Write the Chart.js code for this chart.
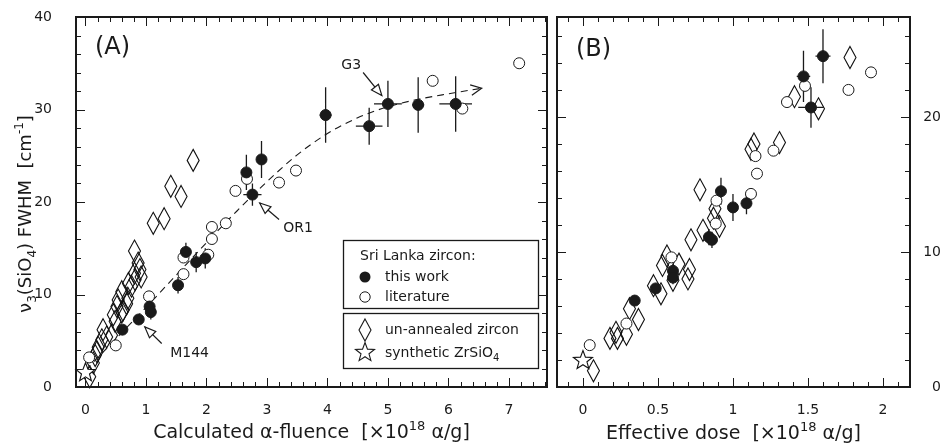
<!DOCTYPE html>
<html>
<head>
<meta charset="utf-8">
<script src="https://cdn.jsdelivr.net/npm/chart.js@4.4.1/dist/chart.umd.min.js"></script>
<style>
  body { margin: 0; background: #fff; }
  #wrap { position: relative; width: 941px; height: 444px; }
  canvas { position: absolute; top: 0; }
</style>
</head>
<body>
<div id="wrap">
  <canvas id="panelA" width="556" height="444" style="left:0;width:556px;height:444px"></canvas>
  <canvas id="panelB" width="400" height="444" style="left:541px;width:400px;height:444px"></canvas>
</div>
<script>
// ---- panel A: FWHM vs calculated alpha-fluence ----
const aWorkX    = [0.61, 0.88, 1.06, 1.08, 1.53, 1.66, 1.83, 1.98, 2.66, 2.76, 2.91, 3.97, 4.69, 5.00, 5.50, 6.12];
const aWorkY    = [6.2, 7.3, 8.7, 8.1, 11.0, 14.6, 13.5, 13.9, 23.2, 20.8, 24.6, 29.4, 28.2, 30.6, 30.5, 30.6];
const aWorkXErr = [0, 0, 0, 0, 0, 0, 0, 0, 0, 0.15, 0, 0.10, 0.22, 0.23, 0.10, 0.27];
const aWorkYErr = [0, 0.5, 0.8, 0.8, 0.9, 1.0, 1.1, 1.1, 1.9, 1.2, 2.0, 3.0, 2.0, 2.5, 3.0, 3.0];

const aLitX = [0.06, 0.50, 1.05, 1.62, 1.62, 2.03, 2.09, 2.09, 2.32, 2.48, 2.67, 3.20, 3.48, 5.74, 6.23, 7.17];
const aLitY = [3.2, 4.5, 9.8, 12.2, 14.0, 14.3, 16.0, 17.3, 17.7, 21.2, 22.5, 22.1, 23.4, 33.1, 30.1, 35.0];

const aUnannX = [0.07, 0.13, 0.16, 0.19, 0.21, 0.27, 0.29, 0.35, 0.43, 0.46, 0.49, 0.52, 0.54, 0.60, 0.60, 0.62,
                 0.68, 0.70, 0.71, 0.76, 0.81, 0.82, 0.87, 0.90, 0.92, 0.81, 1.12, 1.30, 1.41, 1.58, 1.78];
const aUnannY = [1.1, 2.6, 3.4, 3.8, 4.3, 5.1, 6.2, 5.4, 5.6, 7.8, 7.1, 8.7, 9.4, 8.1, 10.3, 8.3,
                 9.0, 9.6, 11.2, 10.9, 12.3, 11.6, 13.4, 12.7, 11.9, 14.7, 17.7, 18.2, 21.7, 20.6, 24.5];

const aSynthX = [0.0];
const aSynthY = [1.6];

// dashed trend line
const aTrendX = [0.0, 0.5, 1.0, 1.5, 2.0, 2.5, 3.0, 3.5, 4.0, 4.5, 5.0, 5.5, 6.0, 6.55];
const aTrendY = [1.8, 5.2, 8.6, 12.1, 15.6, 19.0, 22.2, 25.1, 27.4, 29.1, 30.3, 31.1, 31.7, 32.3];

const aXTicks = [0, 1, 2, 3, 4, 5, 6, 7];
const aYTicks = [0, 10, 20, 30, 40];

// sample annotations (text anchor, arrow start, arrow tip) in data units
const noteText  = ['M144', 'OR1', 'G3'];
const noteX     = [1.40, 3.27, 4.23];
const noteY     = [3.66, 17.2, 34.75];
const noteFromX = [1.26, 3.20, 4.59];
const noteFromY = [4.7, 18.1, 34.0];
const noteToX   = [0.98, 2.88, 4.90];
const noteToY   = [6.5, 19.9, 31.5];

// ---- panel B: FWHM vs effective dose ----
const bWorkX    = [0.345, 0.485, 0.60, 0.60, 0.84, 0.86, 0.92, 1.00, 1.09, 1.47, 1.52, 1.60];
const bWorkY    = [6.4, 7.3, 8.6, 8.1, 11.1, 10.9, 14.5, 13.3, 13.6, 23.0, 20.7, 24.5];
const bWorkXErr = [0, 0, 0, 0, 0, 0, 0, 0, 0, 0.045, 0.085, 0.05];
const bWorkYErr = [0, 0, 0.5, 0.5, 0.6, 0.6, 1.0, 1.0, 0.8, 1.9, 1.5, 2.0];

const bLitX = [0.045, 0.29, 0.59, 0.885, 0.89, 1.12, 1.16, 1.15, 1.27, 1.36, 1.48, 1.77, 1.92];
const bLitY = [3.1, 4.7, 9.6, 12.1, 13.8, 14.3, 15.8, 17.1, 17.5, 21.1, 22.3, 22.0, 23.3];

const bUnannX = [0.07, 0.18, 0.22, 0.23, 0.29, 0.31, 0.37, 0.47, 0.52, 0.53, 0.56, 0.60, 0.64, 0.70,
                 0.71, 0.72, 0.78, 0.80, 0.87, 0.88, 0.91, 1.12, 1.14, 1.31, 1.41, 1.57, 1.78];
const bUnannY = [1.2, 3.6, 4.05, 3.6, 3.9, 5.8, 5.0, 7.5, 6.9, 9.0, 9.7, 7.9, 9.1, 8.0,
                 8.7, 10.9, 14.6, 11.6, 12.5, 13.2, 11.9, 17.6, 18.0, 18.1, 21.5, 20.6, 24.4];

const bSynthX = [0.0];
const bSynthY = [2.0];

const bXTicks = [0, 0.5, 1, 1.5, 2];
const bYTicks = [0, 10, 20];

const FONT = "'DejaVu Sans', Verdana, sans-serif";
const INK = '#1a1a1a';

const zip = (xs, ys) => xs.map((x, i) => ({ x: x, y: ys[i] }));

function diamondPath(ctx, x, y) {
  ctx.beginPath();
  ctx.moveTo(x, y - 11); ctx.lineTo(x + 6, y); ctx.lineTo(x, y + 11); ctx.lineTo(x - 6, y);
  ctx.closePath();
}

function starPath(ctx, x, y) {
  ctx.beginPath();
  for (let i = 0; i < 10; i++) {
    const r = i % 2 === 0 ? 10 : 4.2;
    const a = -Math.PI / 2 + i * Math.PI / 5;
    ctx.lineTo(x + r * Math.cos(a), y + 0.5 + r * Math.sin(a));
  }
  ctx.closePath();
}

// diamonds and stars are drawn as paths at the pixel chart.js computed for each point
const markerPlugin = {
  id: 'markers',
  afterDatasetDraw(chart, args) {
    const kind = chart.data.datasets[args.index].marker;
    if (!kind) return;
    const ctx = chart.ctx;
    ctx.save();
    ctx.strokeStyle = '#111';
    ctx.lineWidth = 1.1;
    args.meta.data.forEach(pt => {
      if (kind === 'diamond') {
        diamondPath(ctx, pt.x, pt.y);
      } else {
        starPath(ctx, pt.x, pt.y);
        ctx.fillStyle = '#fff';
        ctx.fill();
      }
      ctx.stroke();
    });
    ctx.restore();
  }
};

function scatterSets(unX, unY, litX, litY, workX, workY, synX, synY) {
  return [
    { label: 'synthetic ZrSiO4', data: zip(synX, synY), marker: 'star', pointRadius: 0, order: 0 },
    { label: 'this work', data: zip(workX, workY), pointStyle: 'circle', pointRadius: 5.5,
      backgroundColor: INK, borderColor: INK, borderWidth: 1, order: 1 },
    { label: 'literature', data: zip(litX, litY), pointStyle: 'circle', pointRadius: 5.5,
      backgroundColor: '#fff', borderColor: INK, borderWidth: 1, order: 2 },
    { label: 'un-annealed zircon', data: zip(unX, unY), marker: 'diamond', pointRadius: 0, order: 4 }
  ];
}

// text with sub/superscript pieces: [text, 0 normal | 1 sub | 2 sup]
function richWidth(ctx, parts, size) {
  let w = 0;
  parts.forEach(p => {
    ctx.font = (p[1] ? Math.round(size * 0.68) : size) + 'px ' + FONT;
    w += ctx.measureText(p[0]).width;
  });
  return w;
}

function drawRich(ctx, parts, x, y, size, align) {
  let cx = align === 'center' ? x - richWidth(ctx, parts, size) / 2 : x;
  ctx.textAlign = 'left';
  ctx.textBaseline = 'alphabetic';
  parts.forEach(p => {
    const small = p[1] !== 0;
    ctx.font = (small ? Math.round(size * 0.68) : size) + 'px ' + FONT;
    const dy = p[1] === 1 ? size * 0.3 : (p[1] === 2 ? -size * 0.42 : 0);
    ctx.fillText(p[0], cx, y + dy);
    cx += ctx.measureText(p[0]).width;
  });
}

function frameAndTicks(chart, xStep, yStep) {
  const { ctx, chartArea: a, scales: { x, y } } = chart;
  ctx.save();
  ctx.strokeStyle = INK;
  ctx.lineWidth = 1;
  const xMajor = chart.options.scales.x.majorTicks;
  const yMajor = chart.options.scales.y.majorTicks;
  const isMajor = (v, list) => list.some(m => Math.abs(m - v) < 1e-6);
  ctx.beginPath();
  for (let v = Math.ceil(x.min / xStep) * xStep; v <= x.max + 1e-9; v += xStep) {
    const px = Math.round(x.getPixelForValue(v)) + 0.5;
    const len = isMajor(v, xMajor) ? 9 : 5;
    ctx.moveTo(px, a.bottom); ctx.lineTo(px, a.bottom - len);
    ctx.moveTo(px, a.top); ctx.lineTo(px, a.top + len);
  }
  for (let v = Math.ceil(y.min / yStep) * yStep; v <= y.max + 1e-9; v += yStep) {
    const py = Math.round(y.getPixelForValue(v)) + 0.5;
    const len = isMajor(v, yMajor) ? 9 : 5;
    ctx.moveTo(a.left, py); ctx.lineTo(a.left + len, py);
    ctx.moveTo(a.right, py); ctx.lineTo(a.right - len, py);
  }
  ctx.stroke();
  ctx.lineWidth = 2;
  ctx.strokeRect(a.left, a.top, a.right - a.left, a.bottom - a.top);
  ctx.restore();
}

function errorBars(chart, xs, ys, xErr, yErr) {
  const { ctx, scales: { x, y } } = chart;
  ctx.save();
  ctx.strokeStyle = INK;
  ctx.lineWidth = 1.3;
  ctx.beginPath();
  xs.forEach((xv, i) => {
    const px = x.getPixelForValue(xv), py = y.getPixelForValue(ys[i]);
    if (yErr[i]) {
      ctx.moveTo(px, y.getPixelForValue(ys[i] - yErr[i]));
      ctx.lineTo(px, y.getPixelForValue(ys[i] + yErr[i]));
    }
    if (xErr[i]) {
      ctx.moveTo(x.getPixelForValue(xv - xErr[i]), py);
      ctx.lineTo(x.getPixelForValue(xv + xErr[i]), py);
    }
  });
  ctx.stroke();
  ctx.restore();
}

function openHead(ctx, fx, fy, tx, ty, len, half) {
  const ang = Math.atan2(ty - fy, tx - fx);
  const bx = tx - len * Math.cos(ang), by = ty - len * Math.sin(ang);
  ctx.beginPath();
  ctx.moveTo(tx, ty);
  ctx.lineTo(bx + half * Math.sin(ang), by - half * Math.cos(ang));
  ctx.lineTo(bx - half * Math.sin(ang), by + half * Math.cos(ang));
  ctx.closePath();
  ctx.fillStyle = '#fff';
  ctx.fill();
  ctx.stroke();
}

// fixed axis sizes; drop the label overflow padding chart.js adds around the plot
function fixedSize(prop, size) {
  return s => {
    s[prop] = size;
    s.paddingTop = 0; s.paddingBottom = 0; s.paddingLeft = 0; s.paddingRight = 0;
  };
}

function scaleOpts(min, max, ticks, padding, extra) {
  return Object.assign({
    type: 'linear',
    min: min,
    max: max,
    majorTicks: ticks,
    grid: { display: false },
    border: { display: false },
    afterBuildTicks: s => { s.ticks = ticks.map(v => ({ value: v })); },
    ticks: { color: INK, padding: padding, font: { family: FONT, size: 14 }, callback: v => String(v) }
  }, extra);
}

const baseOptions = {
  responsive: false,
  animation: false,
  events: [],
  plugins: { legend: { display: false }, tooltip: { enabled: false } }
};

// ---------- panel A ----------
const panelAPlugin = {
  id: 'panelA',
  beforeDatasetsDraw(chart) {
    errorBars(chart, aWorkX, aWorkY, aWorkXErr, aWorkYErr);
  },
  afterDatasetsDraw(chart) {
    const { ctx, chartArea: a, scales: { x, y } } = chart;
    frameAndTicks(chart, 0.2, 2);
    ctx.save();
    ctx.strokeStyle = INK;
    ctx.fillStyle = INK;
    ctx.lineWidth = 1.2;

    // chevron at the end of the trend line
    const n = aTrendX.length;
    const ex = x.getPixelForValue(aTrendX[n - 1]), ey = y.getPixelForValue(aTrendY[n - 1]);
    const sx = x.getPixelForValue(aTrendX[n - 2]), sy = y.getPixelForValue(aTrendY[n - 2]);
    const ang = Math.atan2(ey - sy, ex - sx);
    ctx.beginPath();
    ctx.moveTo(ex - 12 * Math.cos(ang - 0.45), ey - 12 * Math.sin(ang - 0.45));
    ctx.lineTo(ex, ey);
    ctx.lineTo(ex - 12 * Math.cos(ang + 0.45), ey - 12 * Math.sin(ang + 0.45));
    ctx.stroke();

    // sample annotations
    noteText.forEach((t, i) => {
      const fx = x.getPixelForValue(noteFromX[i]), fy = y.getPixelForValue(noteFromY[i]);
      const tx = x.getPixelForValue(noteToX[i]), ty = y.getPixelForValue(noteToY[i]);
      ctx.beginPath();
      ctx.moveTo(fx, fy); ctx.lineTo(tx, ty);
      ctx.stroke();
      openHead(ctx, fx, fy, tx, ty, 11, 4.5);
      ctx.fillStyle = INK;
      ctx.font = '14px ' + FONT;
      ctx.textAlign = 'left';
      ctx.textBaseline = 'middle';
      ctx.fillText(t, x.getPixelForValue(noteX[i]), y.getPixelForValue(noteY[i]));
    });

    // panel tag
    ctx.font = '24px ' + FONT;
    ctx.textBaseline = 'middle';
    ctx.fillText('(A)', a.left + 19, a.top + 31);

    // legend boxes
    ctx.lineWidth = 1.3;
    ctx.strokeRect(343.5, 240.5, 195, 68);
    ctx.strokeRect(343.5, 313.5, 195, 55);
    ctx.font = '14px ' + FONT;
    ctx.fillText('Sri Lanka zircon:', 360, 256);
    ctx.beginPath(); ctx.arc(365, 277, 5.5, 0, Math.PI * 2); ctx.fill();
    ctx.fillText('this work', 385, 277);
    ctx.beginPath(); ctx.arc(365, 297, 5.2, 0, Math.PI * 2);
    ctx.fillStyle = '#fff'; ctx.fill(); ctx.lineWidth = 1; ctx.stroke();
    ctx.fillStyle = INK;
    ctx.fillText('literature', 385, 297);
    ctx.lineWidth = 1.1;
    diamondPath(ctx, 365, 330); ctx.stroke();
    ctx.fillText('un-annealed zircon', 385, 330);
    starPath(ctx, 365, 352); ctx.stroke();
    drawRich(ctx, [['synthetic ZrSiO', 0], ['4', 1]], 385, 357, 14, 'left');

    // axis titles
    drawRich(ctx, [['Calculated α-fluence  [×10', 0], ['18', 2], [' α/g]', 0]],
      (a.left + a.right) / 2, 438, 19, 'center');
    ctx.save();
    ctx.translate(31, 214);
    ctx.rotate(-Math.PI / 2);
    drawRich(ctx, [['ν', 0], ['3', 1], ['(SiO', 0], ['4', 1], [') FWHM  [cm', 0], ['-1', 2], [']', 0]],
      0, 0, 18, 'center');
    ctx.restore();
    ctx.restore();
  }
};

new Chart(document.getElementById('panelA'), {
  type: 'scatter',
  data: {
    datasets: [
      ...scatterSets(aUnannX, aUnannY, aLitX, aLitY, aWorkX, aWorkY, aSynthX, aSynthY),
      { type: 'line', label: 'trend', data: zip(aTrendX, aTrendY), showLine: true,
        borderColor: INK, borderWidth: 1.1, borderDash: [7, 5], pointRadius: 0,
        cubicInterpolationMode: 'monotone', fill: false, order: 3 }
    ]
  },
  options: Object.assign({}, baseOptions, {
    layout: { padding: { top: 17, right: 9, left: 0, bottom: 0 } },
    scales: {
      x: scaleOpts(-0.157, 7.63, aXTicks, 7, { afterFit: fixedSize('height', 57) }),
      y: scaleOpts(0, 40, aYTicks, 16, { afterFit: fixedSize('width', 76) })
    }
  }),
  plugins: [markerPlugin, panelAPlugin]
});

// ---------- panel B ----------
const panelBPlugin = {
  id: 'panelB',
  beforeDatasetsDraw(chart) {
    errorBars(chart, bWorkX, bWorkY, bWorkXErr, bWorkYErr);
  },
  afterDatasetsDraw(chart) {
    const { ctx, chartArea: a } = chart;
    frameAndTicks(chart, 0.1, 2);
    ctx.save();
    ctx.fillStyle = INK;
    ctx.font = '24px ' + FONT;
    ctx.textAlign = 'left';
    ctx.textBaseline = 'middle';
    ctx.fillText('(B)', a.left + 19, a.top + 33);
    drawRich(ctx, [['Effective dose  [×10', 0], ['18', 2], [' α/g]', 0]],
      (a.left + a.right) / 2, 439, 19, 'center');
    ctx.restore();
  }
};

const bYAxis = scaleOpts(0, 27.4, bYTicks, 8, { position: 'right', afterFit: fixedSize('width', 31) });
bYAxis.ticks.crossAlign = 'far';

new Chart(document.getElementById('panelB'), {
  type: 'scatter',
  data: {
    datasets: scatterSets(bUnannX, bUnannY, bLitX, bLitY, bWorkX, bWorkY, bSynthX, bSynthY)
  },
  options: Object.assign({}, baseOptions, {
    layout: { padding: { top: 17, right: 0, left: 16, bottom: 0 } },
    scales: {
      x: scaleOpts(-0.173, 2.18, bXTicks, 7, { afterFit: fixedSize('height', 57) }),
      y: bYAxis
    }
  }),
  plugins: [markerPlugin, panelBPlugin]
});
</script>
</body>
</html>
